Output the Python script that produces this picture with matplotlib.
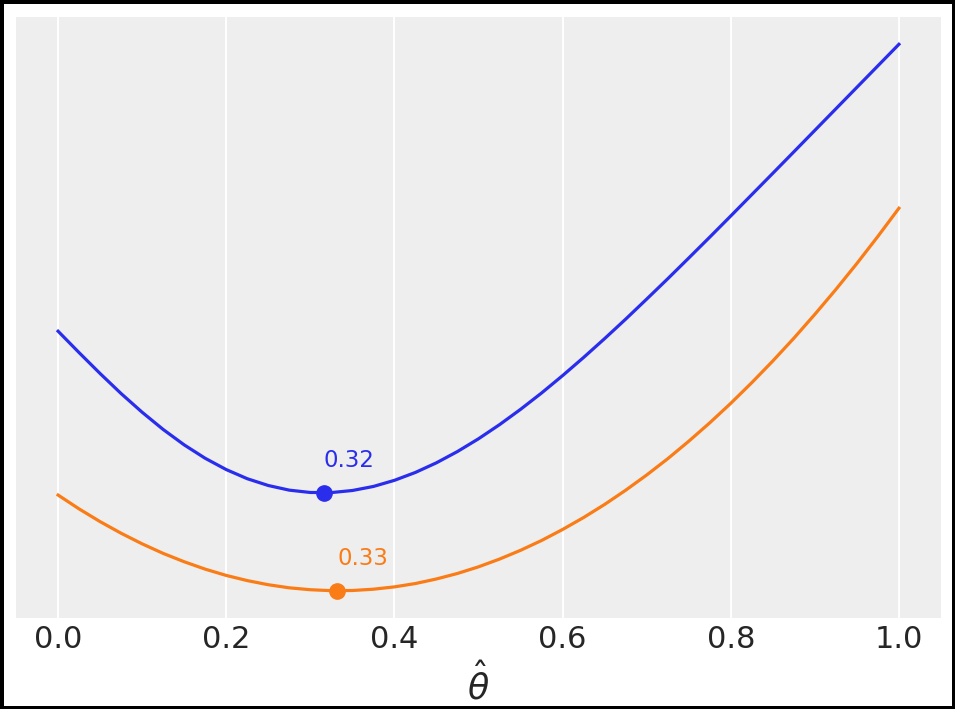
import matplotlib
matplotlib.use("Agg")
import matplotlib.pyplot as plt

theta = [0.000, 0.025, 0.050, 0.075, 0.100, 0.125, 0.150, 0.175, 0.200,
         0.225, 0.250, 0.275, 0.300, 0.325, 0.350, 0.375, 0.400, 0.425,
         0.450, 0.475, 0.500, 0.525, 0.550, 0.575, 0.600, 0.625, 0.650,
         0.675, 0.700, 0.725, 0.750, 0.775, 0.800, 0.825, 0.850, 0.875,
         0.900, 0.925, 0.950, 0.975, 1.000]
# absolute loss (blue)
loss_abs = [0.3333, 0.3084, 0.2841, 0.2608, 0.2391, 0.2191, 0.2012, 0.1856,
            0.1725, 0.1619, 0.1540, 0.1486, 0.1459, 0.1458, 0.1482, 0.1529,
            0.1600, 0.1692, 0.1804, 0.1935, 0.2083, 0.2247, 0.2425, 0.2615,
            0.2817, 0.3028, 0.3247, 0.3473, 0.3706, 0.3942, 0.4183, 0.4426,
            0.4672, 0.4920, 0.5168, 0.5417, 0.5667, 0.5917, 0.6167, 0.6417,
            0.6667]
# quadratic loss (orange)
loss_quad = [0.1429, 0.1268, 0.1120, 0.0985, 0.0862, 0.0751, 0.0654, 0.0568,
             0.0495, 0.0435, 0.0387, 0.0351, 0.0329, 0.0318, 0.0320, 0.0335,
             0.0362, 0.0401, 0.0454, 0.0518, 0.0595, 0.0685, 0.0787, 0.0901,
             0.1029, 0.1168, 0.1320, 0.1485, 0.1662, 0.1851, 0.2054, 0.2268,
             0.2495, 0.2735, 0.2987, 0.3251, 0.3529, 0.3818, 0.4120, 0.4435,
             0.4762]
# minima
opt_theta = [0.316, 0.332]
opt_loss = [0.1455, 0.0317]
opt_labels = ["0.32", "0.33"]

colors = ["#2a2eec", "#fa7c17"]

fig = plt.figure(figsize=(9.55, 7.09), dpi=100)
fig.patch.set_edgecolor("black")
fig.patch.set_linewidth(3.8)
ax = fig.add_axes([0.0168, 0.1283, 0.9685, 0.8477])
ax.set_facecolor("#eeeeee")
for s in ax.spines.values():
    s.set_visible(False)

for i, ys in enumerate([loss_abs, loss_quad]):
    ax.plot(theta, ys, color=colors[i], lw=2.3)
    ax.plot(opt_theta[i], opt_loss[i], "o", color=colors[i], ms=11)
    ax.annotate(opt_labels[i], (opt_theta[i], opt_loss[i] + 0.03),
                color=colors[i], fontsize=16.5)

ax.set_xlim(-0.05, 1.05)
ax.set_ylim(0.0, 0.6984)
ax.set_xticks([0.0, 0.2, 0.4, 0.6, 0.8, 1.0])
ax.set_yticks([])
ax.grid(axis="x", color="white", lw=1.4)
ax.set_axisbelow(True)
ax.tick_params(axis="x", length=0, pad=5, labelsize=22, labelcolor="#262626")
ax.set_xlabel(r"$\hat \theta$", fontsize=25, labelpad=6, color="#262626")

fig.savefig("out.png", dpi=100, edgecolor=fig.get_edgecolor())
